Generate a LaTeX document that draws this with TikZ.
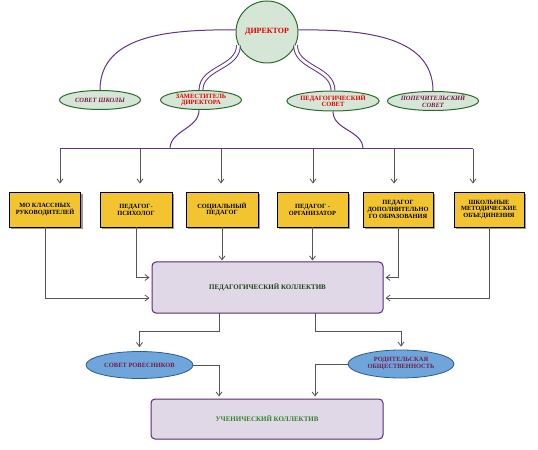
\documentclass[tikz,border=0pt]{standalone}
\usepackage{fontspec}
\setmainfont{Liberation Serif}
\usetikzlibrary{shapes.geometric,arrows.meta,shadows}
\definecolor{lp}{RGB}{98,50,140}
\definecolor{egreen}{RGB}{40,110,40}
\definecolor{efill}{RGB}{214,230,214}
\definecolor{dred}{RGB}{225,0,0}
\definecolor{mag}{RGB}{120,25,70}
\definecolor{yel}{RGB}{242,196,48}
\definecolor{lav}{RGB}{225,216,231}
\definecolor{lavd}{RGB}{90,40,120}
\definecolor{bfill}{RGB}{110,166,220}
\definecolor{bdraw}{RGB}{45,90,150}
\definecolor{cgray}{RGB}{85,85,85}
\definecolor{tgreen}{RGB}{20,70,20}
\definecolor{tgreen2}{RGB}{50,130,40}
\begin{document}
\begin{tikzpicture}[x=1bp,y=-1bp,
  gell/.style={ellipse, draw=egreen, fill=efill, line width=1bp, inner sep=0pt,
    minimum width=81bp, minimum height=19bp, align=center,
    font=\fontsize{6.5}{6.5}\selectfont\bfseries},
  ybox/.style={rectangle, draw=black, line width=0.9bp, fill=yel,
    minimum width=71bp, minimum height=35bp, inner sep=1bp, align=center,
    font=\fontsize{6.4}{6.9}\selectfont\bfseries,
    drop shadow={shadow xshift=2bp, shadow yshift=-2bp, fill=black!40, opacity=1}},
  lbox/.style={rectangle, rounded corners=4bp, draw=lavd, fill=lav, line width=1bp,
    align=center, font=\fontsize{7}{8}\selectfont\bfseries},
  bell/.style={ellipse, draw=bdraw, fill=bfill, line width=0.8bp, inner sep=0pt,
    minimum width=107bp, minimum height=27bp, align=center, text=mag,
    font=\fontsize{6.5}{7}\selectfont\bfseries},
  pline/.style={draw=lp, line width=1bp},
  dline/.style={draw=lp, line width=1bp, double=white, double distance=2.8bp},
  conn/.style={draw=cgray, line width=0.8bp, -{Straight Barb[length=4bp,width=6bp]}},
  cline/.style={draw=cgray, line width=0.8bp}]
\useasboundingbox (0,0) rectangle (538,450);

% top level
\node[circle, draw=egreen, fill=efill, line width=1bp, minimum size=62bp, inner sep=0pt,
  font=\fontsize{8}{8}\selectfont\bfseries, text=dred] (dir) at (267,32) {ДИРЕКТОР};
\node[gell, text=mag, font=\fontsize{6.5}{6.5}\selectfont\bfseries\itshape] (ss) at (100,100) {СОВЕТ ШКОЛЫ};
\node[gell, text=dred] (zd) at (201,100) {ЗАМЕСТИТЕЛЬ\\ДИРЕКТОРА};
\node[gell, text=dred, minimum width=82bp, minimum height=20bp] (ps) at (333,101) {ПЕДАГОГИЧЕСКИЙ\\СОВЕТ};
\node[gell, text=mag, font=\fontsize{6.5}{6.5}\selectfont\bfseries\itshape] (pop) at (433,101) {ПОПЕЧИТЕЛЬСКИЙ\\СОВЕТ};

\draw[pline] (dir.176) to[out=180,in=90] (ss.north);
\draw[pline] (dir.4) to[out=0,in=90] (pop.north);
\draw[dline] (dir.205) to[out=-90,in=90] (zd.north);
\draw[dline] (dir.335) to[out=-90,in=90] (ps.north);

% bus
\coordinate (bl) at (60,149);
\coordinate (br) at (473,149);
\coordinate (bz) at (170,149);
\coordinate (bp) at (363,149);
\draw[pline] ([xshift=-2bp]zd.south) to[out=-90,in=90] (bz);
\draw[pline] (ps.south) to[out=-90,in=90] (bp);
\draw[pline] (bl) -- (br);

% yellow boxes
\node[ybox] (b1) at (45,209.5) {МО КЛАССНЫХ\\РУКОВОДИТЕЛЕЙ};
\node[ybox, minimum width=72bp] (b2) at (136,209.5) {ПЕДАГОГ-\\ПСИХОЛОГ};
\node[ybox, minimum width=72bp] (b3) at (222,209.5) {СОЦИАЛЬНЫЙ\\ПЕДАГОГ};
\node[ybox] (b4) at (312.5,209.5) {ПЕДАГОГ -\\ОРГАНИЗАТОР};
\node[ybox, minimum width=70bp] (b5) at (398,209.5) {ПЕДАГОГ\\ДОПОЛНИТЕЛЬНО\\ГО ОБРАЗОВАНИЯ};
\node[ybox, minimum width=70bp] (b6) at (489,209.5) {ШКОЛЬНЫЕ\\МЕТОДИЧЕСКИЕ\\ОБЪЕДИНЕНИЯ};

\coordinate (d1) at (60,149);
\coordinate (d2) at (140,149);
\coordinate (d3) at (221,149);
\coordinate (d4) at (313,149);
\coordinate (d5) at (394,149);
\coordinate (d6) at (473,149);
\foreach \d/\b in {d1/b1,d2/b2,d3/b3,d4/b4,d5/b5,d6/b6}
  \draw[conn, shorten >=8bp] (\d) -- (\d |- \b.north);

% pedagogical collective
\node[lbox, minimum width=231bp, minimum height=51bp, text=tgreen] (pk) at (267.5,287.5) {ПЕДАГОГИЧЕСКИЙ КОЛЛЕКТИВ};

\draw[conn, shorten >=2bp] (b1.south) |- ([yshift=-10.5bp]pk.west);
\draw[conn, shorten >=2bp] (b2.south) |- ([yshift=10bp]pk.west);
\draw[conn, shorten >=1bp] (b3.south) -- (b3.south |- pk.north);
\draw[conn, shorten >=1bp] (b4.south) -- (b4.south |- pk.north);
\draw[conn, shorten >=2bp] (b5.south) |- ([yshift=10bp]pk.east);
\draw[conn, shorten >=2bp] (b6.south) |- ([yshift=-10.5bp]pk.east);

% lower ellipses
\node[bell] (sr) at (139.5,365) {СОВЕТ РОВЕСНИКОВ};
\node[bell, minimum width=106bp, minimum height=28bp] (ro) at (401,364) {РОДИТЕЛЬСКАЯ\\ОБЩЕСТВЕННОСТЬ};

\node[lbox, minimum width=232bp, minimum height=40bp, text=tgreen2] (uk) at (267,419) {УЧЕНИЧЕСКИЙ КОЛЛЕКТИВ};

\coordinate (pl) at (219,313);
\coordinate (pr) at (315,313);
\coordinate (ql) at (219,331);
\coordinate (qr) at (315,331);
\draw[conn, shorten >=4bp] (pl) -- (ql) -| (sr.north);
\draw[conn, shorten >=3bp] (pr) -- (qr) -| (ro.north);
\draw[conn, shorten >=2bp] (sr.east) -| ([xshift=-48bp]uk.north);
\draw[conn, shorten >=2bp] (ro.west) -| ([xshift=48bp]uk.north);
\end{tikzpicture}
\end{document}
